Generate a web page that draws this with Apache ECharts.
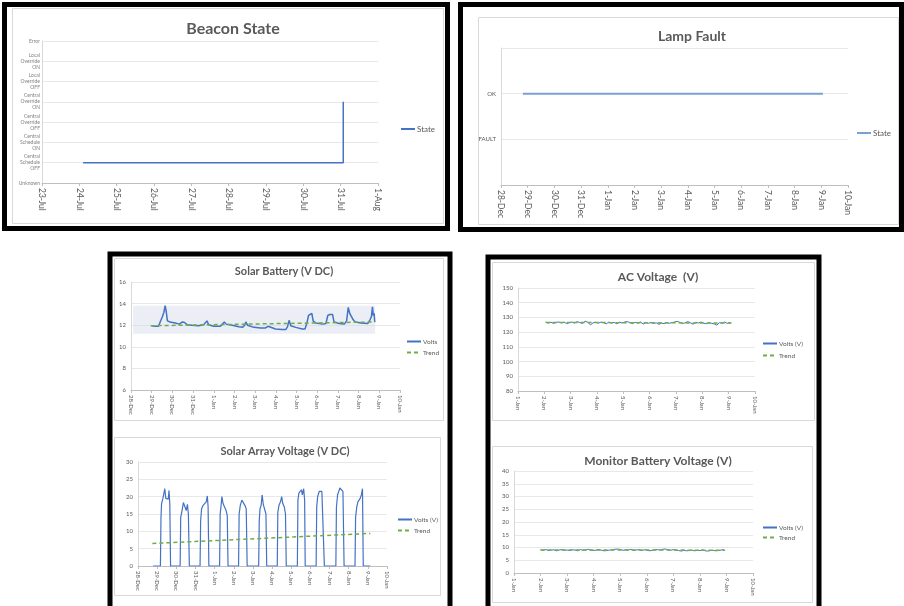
<!DOCTYPE html>
<html><head><meta charset="utf-8">
<script src="https://cdn.jsdelivr.net/npm/echarts@6/dist/echarts.min.js"></script>
<style>html,body{margin:0;padding:0;background:#fff}#c{width:904px;height:606px}</style>
</head><body><div id="c"></div>
<script>
// ---------- Beacon State ----------
const beaconDays = ['23-Jul','24-Jul','25-Jul','26-Jul','27-Jul','28-Jul','29-Jul','30-Jul','31-Jul','1-Aug'];
const beaconStateLabels = ['Unknown','Central\nSchedule\nOFF','Central\nSchedule\nON','Central\nOverride\nOFF','Central\nOverride\nON','Local\nOverride\nOFF','Local\nOverride\nON','Error'];
const beaconX = [1.1, 8.07, 8.07];
const beaconY = [1, 1, 4];

// ---------- Lamp Fault ----------
const decJanDays = ['28-Dec','29-Dec','30-Dec','31-Dec','1-Jan','2-Jan','3-Jan','4-Jan','5-Jan','6-Jan','7-Jan','8-Jan','9-Jan','10-Jan'];
const lampStateLabels = ['', 'FAULT', 'OK', ''];
const lampX = [0.82, 12.06];
const lampY = [2, 2];

// ---------- Solar Battery (V DC) ----------
const solarBatteryVolts = [
 [1.0,11.95],[1.17,11.9],[1.33,11.9],[1.41,12.3],[1.52,12.8],[1.59,13.2],[1.65,13.8],[1.70,13.3],[1.76,12.4],[1.89,12.3],
 [2.14,12.2],[2.33,12.1],[2.49,12.3],[2.59,12.25],[2.70,12.05],[2.95,12.0],[3.27,11.95],[3.51,12.05],[3.59,12.2],[3.67,12.4],
 [3.75,12.05],[4.0,11.9],[4.32,11.9],[4.40,12.0],[4.51,12.3],[4.60,12.1],[4.89,12.0],[5.21,11.85],[5.40,11.8],[5.49,12.0],
 [5.55,12.3],[5.63,12.0],[5.94,11.8],[6.26,11.75],[6.50,11.75],[6.62,11.9],[6.70,11.75],[6.99,11.65],[7.31,11.6],[7.48,11.6],
 [7.56,11.85],[7.64,12.45],[7.72,11.95],[7.96,11.8],[8.28,11.65],[8.41,11.65],[8.50,12.2],[8.58,12.9],[8.66,13.05],[8.74,13.1],
 [8.80,12.4],[8.93,12.2],[9.26,12.1],[9.42,12.15],[9.51,12.9],[9.61,13.0],[9.74,13.0],[9.81,12.3],[10.06,12.15],[10.31,12.1],
 [10.42,12.4],[10.50,13.65],[10.57,13.1],[10.66,13.1],[10.74,12.5],[10.84,12.3],[11.12,12.2],[11.44,12.15],[11.55,12.5],[11.62,12.8],
 [11.67,13.7],[11.71,12.9],[11.75,13.1],[11.78,12.3]
];
const solarBatteryTrend = [[0.95,11.95],[11.8,12.3]];
const solarBatteryBandY = [11.2, 13.8];
const solarBatteryBandX = [0.1, 11.8];

// ---------- Solar Array Voltage (V DC) ----------
const solarArrayVolts = [
 [0.79,0],
 [1.17,0],[1.2,14],[1.23,18],[1.3,19.5],[1.36,20],[1.4,22.3],[1.45,19.5],[1.52,20],[1.58,19.3],[1.62,21.8],[1.66,18],[1.7,0],
 [2.2,0],[2.23,14],[2.3,16],[2.37,18.3],[2.45,17.8],[2.52,16],[2.58,17.8],[2.63,15],[2.68,0],
 [3.24,0],[3.27,13],[3.32,16.5],[3.4,17.5],[3.48,18],[3.56,18.5],[3.62,20.2],[3.66,17],[3.7,0],
 [4.26,0],[4.29,15],[4.33,17],[4.38,20],[4.44,18],[4.52,17.5],[4.6,16],[4.66,14.5],[4.7,0],
 [5.25,0],[5.28,15],[5.34,17.5],[5.42,19],[5.5,18.5],[5.58,17.5],[5.65,16.5],[5.7,0],
 [6.3,0],[6.33,13],[6.37,16.5],[6.43,17.5],[6.48,20.5],[6.54,17.8],[6.62,17.5],[6.68,15],[6.72,0],
 [7.27,0],[7.3,15.5],[7.36,17.5],[7.44,18.5],[7.5,20],[7.56,18],[7.64,17],[7.7,15],[7.74,0],
 [8.32,0],[8.35,19],[8.4,21],[8.47,20.5],[8.53,22],[8.58,20.5],[8.65,22.3],[8.7,19],[8.73,0],
 [9.3,0],[9.33,17],[9.38,20],[9.46,21.5],[9.52,22],[9.6,21.5],[9.68,21],[9.73,0],
 [10.33,0],[10.36,17],[10.42,20.5],[10.48,21],[10.54,22.5],[10.62,22.3],[10.7,21.5],[10.76,0],
 [11.33,0],[11.36,14],[11.42,17],[11.48,18.5],[11.55,18],[11.6,19.5],[11.66,20.5],[11.72,22.3],[11.76,0],
 [12.13,0]
];
const solarArrayTrend = [[0.75,6.5],[12.13,9.4]];

// ---------- AC Voltage (V) ----------
const janDays = ['1-Jan','2-Jan','3-Jan','4-Jan','5-Jan','6-Jan','7-Jan','8-Jan','9-Jan','10-Jan'];
const acVolts = [
 [1.05,126.8],[1.15,126.2],[1.25,126.7],[1.35,126.0],[1.45,126.6],[1.55,126.9],[1.65,126.3],[1.75,126.8],[1.85,125.8],[1.95,126.5],
 [2.05,126.9],[2.15,126.2],[2.25,127.1],[2.35,126.5],[2.45,125.9],[2.55,127.4],[2.65,126.8],[2.75,124.9],[2.85,126.3],[2.95,126.7],
 [3.05,126.1],[3.15,126.8],[3.25,126.4],[3.35,125.6],[3.45,126.9],[3.55,126.2],[3.65,126.6],[3.75,125.7],[3.85,126.8],[3.95,126.2],
 [4.05,126.9],[4.15,127.2],[4.25,126.5],[4.35,125.8],[4.45,126.7],[4.55,126.1],[4.65,126.9],[4.75,125.5],[4.85,126.4],[4.95,126.0],
 [5.05,126.6],[5.15,125.9],[5.25,126.3],[5.35,125.3],[5.45,126.1],[5.55,125.8],[5.65,126.4],[5.75,126.0],[5.85,126.5],[5.95,126.9],
 [6.05,127.3],[6.15,126.6],[6.25,125.8],[6.35,126.4],[6.45,127.2],[6.55,126.3],[6.65,125.4],[6.75,126.7],[6.85,126.2],[6.95,126.9],
 [7.05,126.1],[7.15,125.7],[7.25,126.5],[7.35,126.0],[7.45,125.6],[7.55,124.8],[7.65,126.5],[7.75,126.0],[7.85,126.9],[7.95,125.9],
 [8.05,126.4],[8.1,126.2]
];
const acTrend = [[1.05,126.6],[8.1,126.2]];

// ---------- Monitor Battery Voltage (V) ----------
const monitorVolts = [
 [1.0,9.1],[1.1,8.9],[1.2,9.2],[1.3,8.8],[1.4,9.0],[1.5,9.1],[1.6,8.7],[1.7,9.0],[1.8,9.2],[1.9,8.9],
 [2.0,9.0],[2.1,8.8],[2.2,9.1],[2.3,9.0],[2.4,8.7],[2.5,9.2],[2.6,8.9],[2.7,9.0],[2.8,9.3],[2.9,8.9],
 [3.0,8.8],[3.1,9.0],[3.2,9.2],[3.3,8.9],[3.4,8.7],[3.5,8.8],[3.6,9.0],[3.7,9.1],[3.8,9.3],[3.9,9.4],
 [4.0,9.2],[4.1,8.9],[4.2,9.1],[4.3,9.0],[4.4,9.3],[4.5,8.9],[4.6,9.0],[4.7,9.2],[4.8,8.8],[4.9,9.1],
 [5.0,9.0],[5.1,8.7],[5.2,8.9],[5.3,9.1],[5.4,9.2],[5.5,9.0],[5.6,9.3],[5.7,9.4],[5.8,9.1],[5.9,8.9],
 [6.0,9.2],[6.1,9.0],[6.2,8.8],[6.3,8.6],[6.4,8.9],[6.5,8.7],[6.6,8.8],[6.7,9.0],[6.8,8.7],[6.9,8.9],
 [7.0,8.8],[7.1,9.1],[7.2,8.7],[7.3,8.6],[7.4,8.8],[7.5,8.9],[7.6,8.7],[7.7,8.8],[7.8,9.0],[7.9,9.2]
];
const monitorTrend = [[1.0,9.05],[7.95,8.95]];

const legendNames = {beacon:'State', lamp:'State', sbV:'Volts', sbT:'Trend', saV:'Volts (V)', saT:'Trend', acV:'Volts (V)', acT:'Trend', mbV:'Volts (V)', mbT:'Trend'};

const FONT = 'Lato, "Open Sans", sans-serif';
const LBL = '#595959';
const BLUE = '#4472c4';
const GREEN = '#70ad47';
const zip = (a, b) => a.map((v, i) => [v, b[i]]);

function xAxisDef(gi, labels, max, fs) {
  return {
    type: 'value', gridIndex: gi, min: 0, max: max, interval: 1,
    axisLine: {show: true, lineStyle: {color: '#bfbfbf'}},
    axisTick: {show: true, length: 3, lineStyle: {color: '#bfbfbf'}},
    splitLine: {show: false},
    axisLabel: {rotate: -90, fontSize: fs, color: LBL, fontFamily: FONT, margin: 5,
      formatter: v => labels[Math.round(v)] || ''}
  };
}
function yAxisDef(gi, min, max, interval, fs, formatter) {
  const ax = {
    type: 'value', gridIndex: gi, min: min, max: max, interval: interval,
    axisLine: {show: true, lineStyle: {color: '#d9d9d9'}},
    axisTick: {show: false},
    splitLine: {show: true, lineStyle: {color: '#e8e8e8'}},
    axisLabel: {fontSize: fs, color: LBL, fontFamily: FONT, margin: 5}
  };
  if (formatter) ax.axisLabel.formatter = formatter;
  return ax;
}
function titleDef(text, x, y, fs) {
  return {text: text, left: x, top: y, textAlign: 'center',
    textStyle: {fontFamily: FONT, fontSize: fs, fontWeight: 'bold', color: LBL}};
}
function legendDef(names, x, y, fs, gap) {
  return {data: names, left: x, top: y, orient: 'vertical', itemWidth: 14, itemHeight: 7, itemGap: gap,
    selectedMode: false, padding: 0,
    itemStyle: {opacity: 0, borderWidth: 0},
    textStyle: {fontFamily: FONT, fontSize: fs, color: LBL, padding: [0,0,0,-3]},
    formatter: n => legendNames[n]};
}
function lineSeries(name, xi, data, color, width, dashed) {
  return {name: name, type: 'line', xAxisIndex: xi, yAxisIndex: xi, data: data, symbol: 'none',
    showSymbol: false, animation: false, silent: true,
    lineStyle: {color: color, width: width, type: dashed ? [4, 3] : 'solid'},
    itemStyle: {color: color}};
}
function frame(x, y, w, h) {
  return {type: 'rect', shape: {x: x, y: y, width: w, height: h}, silent: true,
    style: {fill: 'none', stroke: '#000', lineWidth: 5}, z: 100};
}
function box(x, y, w, h) {
  return {type: 'rect', shape: {x: x, y: y, width: w, height: h}, silent: true,
    style: {fill: 'none', stroke: '#d9d9d9', lineWidth: 1}, z: -1};
}

const sbSeries = lineSeries('sbV', 2, solarBatteryVolts, BLUE, 1.5, false);
sbSeries.markArea = {silent: true, itemStyle: {color: 'rgba(210,218,232,0.45)'},
  data: [[{coord: [solarBatteryBandX[0], solarBatteryBandY[1]]}, {coord: [solarBatteryBandX[1], solarBatteryBandY[0]]}]]};
sbSeries.markLine = {silent: true, symbol: 'none', lineStyle: {opacity: 0},
  label: {show: true, position: 'start', fontSize: 4, color: '#7f7f7f', fontFamily: FONT, distance: 1, formatter: String(solarBatteryBandY[0])},
  data: [
    [{coord: [0.45, solarBatteryBandY[1]], label: {formatter: String(solarBatteryBandY[1])}}, {coord: [1.0, solarBatteryBandY[1]]}],
    [{coord: [0.45, solarBatteryBandY[0]], label: {formatter: String(solarBatteryBandY[0])}}, {coord: [1.0, solarBatteryBandY[0]]}]
  ]};

const option = {
  backgroundColor: '#fff',
  animation: false,
  title: [
    titleDef('Beacon State', 228, 16, 16),
    titleDef('Lamp Fault', 687, 24, 14),
    titleDef('Solar Battery (V DC)', 279, 261, 11),
    titleDef('Solar Array Voltage (V DC)', 280, 441, 11),
    titleDef('AC Voltage  (V)', 653, 266, 12),
    titleDef('Monitor Battery Voltage (V)', 653, 450, 12)
  ],
  legend: [
    legendDef(['beacon'], 400, 125, 8, 4),
    legendDef(['lamp'], 856, 129, 8, 4),
    legendDef(['sbV', 'sbT'], 406, 338, 6.5, 4),
    legendDef(['saV', 'saT'], 397, 516, 6.5, 4),
    legendDef(['acV', 'acT'], 762, 340, 6.5, 5),
    legendDef(['mbV', 'mbT'], 762, 524, 6.5, 3)
  ],
  grid: [
    {left: 42, top: 41, width: 336, height: 142, outerBoundsMode: 'none'},
    {left: 501, top: 48, width: 347, height: 137, outerBoundsMode: 'none'},
    {left: 131, top: 282, width: 269, height: 108, outerBoundsMode: 'none'},
    {left: 138, top: 462, width: 249, height: 104, outerBoundsMode: 'none'},
    {left: 518, top: 288, width: 237, height: 103, outerBoundsMode: 'none'},
    {left: 514, top: 471, width: 239, height: 102, outerBoundsMode: 'none'}
  ],
  xAxis: [
    xAxisDef(0, beaconDays, 9, 8.5),
    xAxisDef(1, decJanDays, 13, 8.5),
    xAxisDef(2, decJanDays, 13, 6),
    xAxisDef(3, decJanDays, 13, 6),
    xAxisDef(4, janDays, 9, 6),
    xAxisDef(5, janDays, 9, 6)
  ],
  yAxis: [
    yAxisDef(0, 0, 7, 1, 5, v => beaconStateLabels[Math.round(v)] || ''),
    yAxisDef(1, 0, 3, 1, 6, v => lampStateLabels[Math.round(v)] || ''),
    yAxisDef(2, 6, 16, 2, 6),
    yAxisDef(3, 0, 30, 5, 6),
    yAxisDef(4, 80, 150, 10, 6),
    yAxisDef(5, 0, 40, 5, 6)
  ],
  series: [
    lineSeries('beacon', 0, zip(beaconX, beaconY), BLUE, 1.5, false),
    lineSeries('lamp', 1, zip(lampX, lampY), '#7c9ed6', 2, false),
    sbSeries,
    lineSeries('sbT', 2, solarBatteryTrend, GREEN, 1.5, true),
    lineSeries('saV', 3, solarArrayVolts, BLUE, 1.2, false),
    lineSeries('saT', 3, solarArrayTrend, GREEN, 1.5, true),
    lineSeries('acV', 4, acVolts, BLUE, 1, false),
    lineSeries('acT', 4, acTrend, GREEN, 1.5, true),
    lineSeries('mbV', 5, monitorVolts, BLUE, 1, false),
    lineSeries('mbT', 5, monitorTrend, GREEN, 1.5, true)
  ],
  graphic: [
    box(12.5, 8.5, 431, 215),
    box(478.5, 17.5, 420, 207),
    box(114.5, 258.5, 329, 162),
    box(114.5, 437.5, 326, 158),
    box(492.5, 262.5, 322, 158),
    box(492.5, 446.5, 320, 156),
    frame(4.5, 4.5, 443, 224),
    frame(460.5, 4.5, 441, 225),
    frame(110, 254, 340, 360),
    frame(488, 257, 331, 360)
  ]
};
option.yAxis[0].axisLabel.lineHeight = 6;
option.yAxis[0].axisLabel.color = '#7f7f7f';
option.yAxis[0].axisLabel.margin = 2;

const chart = echarts.init(document.getElementById('c'), null, {renderer: 'canvas'});
chart.setOption(option);
</script>
</body></html>
